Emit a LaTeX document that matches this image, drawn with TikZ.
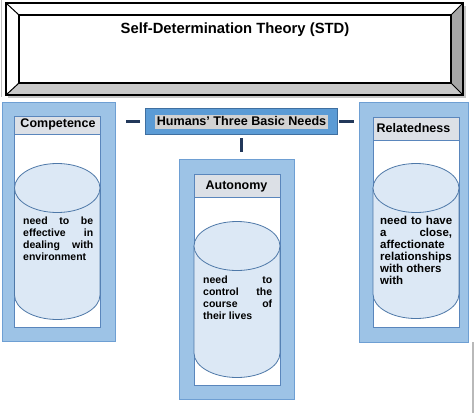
\documentclass[tikz,border=0pt]{standalone}
\usepackage{fontspec}
\setmainfont{Liberation Sans}
\definecolor{panelfill}{HTML}{9DC3E6}
\definecolor{paneldraw}{HTML}{6E9FD3}
\definecolor{innerdraw}{HTML}{5A86BC}
\definecolor{headfill}{HTML}{DCE0E6}
\definecolor{cylfill}{HTML}{DCE8F5}
\definecolor{cyldraw}{HTML}{4E78A8}
\definecolor{needsfill}{HTML}{5B9BD5}
\definecolor{needsdraw}{HTML}{3F6FA0}
\definecolor{hlgray}{HTML}{D2D2D2}
\definecolor{connc}{HTML}{22385A}
\definecolor{bevR}{HTML}{A6A6A6}
\definecolor{bevB}{HTML}{C9C9C9}
\begin{document}
\begin{tikzpicture}[x=1pt,y=1pt,yscale=-1,
  panel/.style={draw=paneldraw, fill=panelfill, line width=0.9, anchor=north west, inner sep=0pt},
  inner/.style={draw=innerdraw, fill=white, line width=0.8},
  head/.style={draw=innerdraw, fill=headfill, line width=0.8},
  headtext/.style={font=\bfseries\fontsize{12.5}{14}\selectfont, anchor=base, inner sep=0pt},
  body/.style={font=\bfseries\fontsize{10.5}{12}\selectfont, align=justify, inner sep=0pt, anchor=north west},
  conn/.style={draw=connc, line width=3.5},
]
\useasboundingbox (0,0) rectangle (474,413);
% top bevelled box
\fill[gray!45] (8,6) rectangle (466,98);
\draw[gray!50, line width=0.8] (1,0) -- (1,97);
\fill[white] (6,3) -- (463,3) -- (451,15) -- (19,15) -- cycle;
\fill[white] (6,3) -- (19,15) -- (19,83) -- (6,95) -- cycle;
\fill[bevR] (463,3) -- (463,95) -- (451,83) -- (451,15) -- cycle;
\fill[bevB] (6,95) -- (19,83) -- (451,83) -- (463,95) -- cycle;
\draw[black, line width=1.4] (6,3) rectangle (463,95);
\draw[black, fill=white, line width=1.4] (19,15) rectangle (451,83);
\draw[black, line width=1] (6,3)--(19,15) (463,3)--(451,15) (463,95)--(451,83) (6,95)--(19,83);
\node[font=\bfseries\fontsize{14.8}{17}\selectfont, anchor=base, inner sep=0pt] (title) at (235,33) {Self-Determination Theory (STD)};
% page edge
\fill[gray!55] (471.5,342) rectangle (474,413);
% panels
\node[panel, minimum width=113, minimum height=239] (comp) at (2,102) {};
\node[panel, minimum width=115, minimum height=240] (auto) at (179,159) {};
\node[panel, minimum width=109, minimum height=240] (rel) at (359,102) {};
% inner rectangles and headers
\draw[inner] (14,116) rectangle (100,327);
\draw[head] (14,116) rectangle (100,134);
\draw[inner] (194,174) rectangle (280,385);
\draw[head] (194,174) rectangle (280,197);
\draw[inner] (373,117) rectangle (459,327);
\draw[head] (373,117) rectangle (459,140);
% cylinders
\foreach \xa/\xb/\tc/\bc in {14.5/100/188/295, 194/280/246/353, 373/459/188/294}{
  \pgfmathsetmacro\rx{(\xb-\xa)/2}
  \pgfmathsetmacro\cx{(\xa+\xb)/2}
  \fill[cylfill] (\xa,\tc) rectangle (\xb,\bc);
  \fill[cylfill] (\cx,\bc) ellipse [x radius=\rx, y radius=24.5];
  \draw[cyldraw, line width=0.8] (\xa,\tc) -- (\xa,\bc) arc[start angle=180, end angle=0, x radius=\rx, y radius=24.5] -- (\xb,\tc);
  \draw[cyldraw, fill=cylfill, line width=0.8] (\cx,\tc) ellipse [x radius=\rx, y radius=24.5];
}
% header texts
\node[headtext] (compt) at (58,127) {Competence};
\node[headtext] (autot) at (236.5,189) {Autonomy};
\node[headtext] (relt) at (413.5,132) {Relatedness};
% body texts
\node[body, text width=70] (compb) at (23,216.4) {need to be\linebreak effective in\linebreak dealing with\linebreak environment};
\node[body, text width=69] (autob) at (203,275.4) {need to\linebreak control the\linebreak course of\linebreak their lives};
\node[body, text width=72, font=\bfseries\fontsize{11.5}{12.1}\selectfont] (relb) at (380,215.6) {need to have\linebreak a close,\linebreak affectionate\linebreak relationships\linebreak with others\\ with};
% central node
\node[draw=needsdraw, fill=needsfill, line width=1.2, minimum width=192, minimum height=26, anchor=north west, inner sep=0pt] (needs) at (145,108) {};
\node[font=\bfseries\fontsize{12.6}{14}\selectfont, fill=hlgray, anchor=base, inner xsep=1.5pt, inner ysep=1.5pt, text height=9pt, text depth=2.5pt] (needst) at (241.5,125) {Humans’ Three Basic Needs};
% connectors
\draw[conn, shorten <=5pt, shorten >=10pt] (needs.west) -- (needs.west -| comp.east);
\draw[conn, shorten <=1pt, shorten >=5pt] (needs.east) -- (needs.east -| rel.west);
\draw[conn, shorten <=3pt, shorten >=7pt] (needs.south) -- (needs.south |- auto.north);
\end{tikzpicture}
\end{document}
